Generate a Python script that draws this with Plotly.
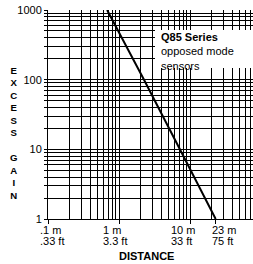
import numpy as np
import plotly.graph_objects as go

# ---- data ----
distance_m = [0.68, 2.25, 7.2, 23]
excess_gain = [1000, 100, 10, 1]

x_tick_vals = [0.1, 1, 10, 23]
x_labels_m = [".1 m", "1 m", "10 m", "23 m"]
x_labels_ft = [".33 ft", "3.3 ft", "33 ft", "75 ft"]

y_tick_vals = [1, 10, 100, 1000]
y_tick_labels = ["1", "10", "100", "1000"]

x_grid = [d * 10 ** e for e in (-1, 0, 1) for d in range(1, 10) if d * 10 ** e <= 70]
y_grid = [d * 10 ** e for e in (0, 1, 2) for d in range(1, 10)] + [1000]

FONT = "Liberation Sans, Arial, sans-serif"
W, H = 253, 264
L, R, T, B = 48, 0, 10, 45
pw, ph = W - L - R, H - T - B

xr = [-1, -1 + pw / 71.0]

fig = go.Figure()
fig.add_trace(go.Scatter(x=distance_m, y=excess_gain, mode="lines",
                         line=dict(color="black", width=2), hoverinfo="skip",
                         showlegend=False))
fig.add_trace(go.Scatter(x=distance_m, y=excess_gain, mode="markers",
                         marker=dict(opacity=0), xaxis="x2", yaxis="y",
                         hoverinfo="skip", showlegend=False))

ytext = [y_tick_labels[y_tick_vals.index(v)] if v in y_tick_vals else "" for v in y_grid]

fig.update_layout(
    width=W, height=H, margin=dict(l=L, r=R, t=T, b=B),
    paper_bgcolor="white", plot_bgcolor="white",
    font=dict(family=FONT, size=11, color="black"),
    xaxis=dict(type="log", range=xr, tickvals=x_grid, showticklabels=False,
               ticks="", showgrid=True, gridcolor="black", gridwidth=1,
               showline=True, linecolor="black", linewidth=1, zeroline=False),
    xaxis2=dict(type="log", range=xr, overlaying="x", side="bottom",
                tickvals=x_tick_vals, ticks="outside", ticklen=4,
                tickcolor="black", showticklabels=False, showgrid=False,
                showline=False, zeroline=False),
    yaxis=dict(type="log", range=[0, 3], tickvals=y_grid, ticktext=ytext,
               ticks="outside", ticklen=3, tickcolor="black",
               showgrid=True, gridcolor="black", gridwidth=1,
               showline=True, linecolor="black", linewidth=1, zeroline=False,
               tickfont=dict(size=11)),
)

def px_x(p):
    return (p - L) / pw

def px_y(p):
    return (T + ph - p) / ph

# white legend box
fig.add_shape(type="rect", xref="paper", yref="paper",
              x0=px_x(155), x1=1.0, y0=px_y(68), y1=px_y(30),
              fillcolor="white", line=dict(width=0), layer="above")
fig.add_annotation(xref="paper", yref="paper", x=px_x(159), y=px_y(29),
                   xanchor="left", yanchor="top", align="left", showarrow=False,
                   text="<b>Q85 Series</b><br>opposed mode<br>sensors",
                   font=dict(size=11, family=FONT, color="black"))

# x tick labels
shifts = [-10, -18, -21, -6]
for v, m, ft, s in zip(x_tick_vals, x_labels_m, x_labels_ft, shifts):
    fig.add_annotation(x=np.log10(v), xref="x", yref="paper", y=px_y(230),
                       text=m, showarrow=False, xanchor="left", yanchor="middle",
                       xshift=s, font=dict(size=11, family=FONT))
    fig.add_annotation(x=np.log10(v), xref="x", yref="paper", y=px_y(241),
                       text=ft, showarrow=False, xanchor="left", yanchor="middle",
                       xshift=s, font=dict(size=11, family=FONT))

fig.add_annotation(xref="paper", yref="paper", x=px_x(146.5), y=px_y(256),
                   text="<b>DISTANCE</b>", showarrow=False,
                   xanchor="center", yanchor="middle",
                   font=dict(size=11, family=FONT))

ytitle = "<br>".join(list("EXCESS") + [""] + list("GAIN"))
fig.add_annotation(xref="paper", yref="paper", x=px_x(14), y=px_y(133),
                   text="<b>" + ytitle + "</b>", showarrow=False,
                   xanchor="center", yanchor="middle",
                   font=dict(size=9.6, family=FONT))

fig.write_html("out.html", config={"displayModeBar": False},
               post_script="document.body.style.margin='0';document.body.style.overflow='hidden';")
